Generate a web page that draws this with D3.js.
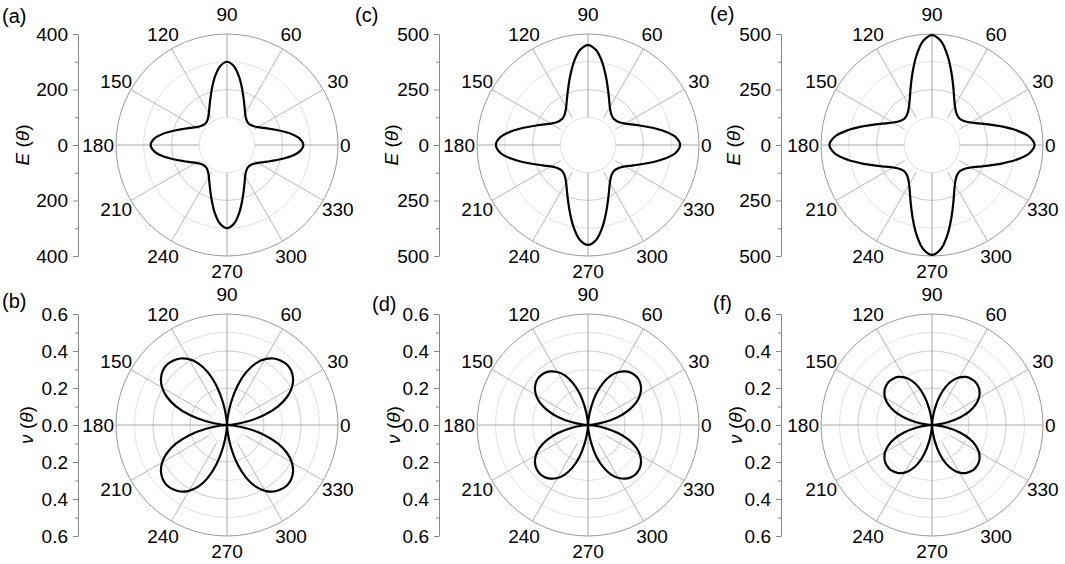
<!DOCTYPE html>
<html>
<meta charset="utf-8">
<script src="https://d3js.org/d3.v7.min.js"></script>
<style>
body { margin: 0; background: #fff; }
svg text { font-family: "Liberation Sans", Arial, sans-serif; fill: #000; }
</style>
<body>
<div id="chart"></div>
<script>
var WIDTH = 1065, HEIGHT = 564;
var R = 111;

// sample angles (deg) for every series below
var angles = d3.range(0, 360, 5);
var spokes = [0, 30, 60, 90, 120, 150, 180, 210, 240, 270, 300, 330];

// Young's modulus E(theta), panels (a) (c) (e)
var eA = [275,263,234,199,169,146,129,118,112,110,112,119,131,150,176,210,250,285,300,
          285,250,210,176,150,131,119,112,110,112,118,129,146,169,199,234,263,
          275,263,234,199,169,146,129,118,112,110,112,119,131,150,176,210,250,285,300,
          285,250,210,176,150,131,119,112,110,112,118,129,146,169,199,234,263];
var eC = [415,397,352,300,254,219,193,177,168,165,169,179,197,225,264,315,375,428,450,
          428,375,315,264,225,197,179,169,165,168,177,193,219,254,300,352,397,
          415,397,352,300,254,219,193,177,168,165,169,179,197,225,264,315,375,428,450,
          428,375,315,264,225,197,179,169,165,168,177,193,219,254,300,352,397];
var eE = [462,439,385,324,271,231,203,185,175,172,176,187,206,236,280,338,407,469,495,
          469,407,338,280,236,206,187,176,172,175,185,203,231,271,324,385,439,
          462,439,385,324,271,231,203,185,175,172,176,187,206,236,280,338,407,469,495,
          469,407,338,280,236,206,187,176,172,175,185,203,231,271,324,385,439];

// Poisson's ratio nu(theta), panels (b) (d) (f)
var nuB = [0,0.033,0.115,0.208,0.292,0.358,0.405,0.436,0.454,0.460,0.454,0.439,0.411,0.368,0.304,0.220,0.122,0.036,0,
           0.036,0.122,0.220,0.304,0.368,0.411,0.439,0.454,0.460,0.454,0.436,0.405,0.358,0.292,0.208,0.115,0.033,
           0,0.033,0.115,0.208,0.292,0.358,0.405,0.436,0.454,0.460,0.454,0.439,0.411,0.368,0.304,0.220,0.122,0.036,0,
           0.036,0.122,0.220,0.304,0.368,0.411,0.439,0.454,0.460,0.454,0.436,0.405,0.358,0.292,0.208,0.115,0.033];
var nuD = [0,0.027,0.092,0.168,0.235,0.288,0.325,0.350,0.365,0.370,0.367,0.354,0.331,0.296,0.244,0.177,0.098,0.029,0,
           0.029,0.098,0.177,0.244,0.296,0.331,0.354,0.367,0.370,0.365,0.350,0.325,0.288,0.235,0.168,0.092,0.027,
           0,0.027,0.092,0.168,0.235,0.288,0.325,0.350,0.365,0.370,0.367,0.354,0.331,0.296,0.244,0.177,0.098,0.029,0,
           0.029,0.098,0.177,0.244,0.296,0.331,0.354,0.367,0.370,0.365,0.350,0.325,0.288,0.235,0.168,0.092,0.027];
var nuF = [0,0.025,0.087,0.156,0.215,0.260,0.293,0.314,0.326,0.330,0.327,0.317,0.297,0.266,0.222,0.162,0.091,0.027,0,
           0.027,0.091,0.162,0.222,0.266,0.297,0.317,0.327,0.330,0.326,0.314,0.293,0.260,0.215,0.156,0.087,0.025,
           0,0.025,0.087,0.156,0.215,0.260,0.293,0.314,0.326,0.330,0.327,0.317,0.297,0.266,0.222,0.162,0.091,0.027,0,
           0.027,0.091,0.162,0.222,0.266,0.297,0.317,0.327,0.330,0.326,0.314,0.293,0.260,0.215,0.156,0.087,0.025];

// radial grid rings and y-axis ticks
var ringsA = [100, 200, 300, 400];
var ringsCE = [125, 250, 375, 500];
var ringsNu = [0.1, 0.2, 0.3, 0.4, 0.5, 0.6];
var ticksA = [-400, -200, 0, 200, 400], minorA = [-300, -100, 100, 300];
var ticksCE = [-500, -250, 0, 250, 500], minorCE = [-375, -125, 125, 375];
var ticksNu = [-0.6, -0.4, -0.2, 0, 0.2, 0.4, 0.6], minorNu = [-0.5, -0.3, -0.1, 0.1, 0.3, 0.5];

var panels = [
  {tag: "(a)", tx: 2,   ty: 23,  cx: 227, cy: 145, ax: 78,  titleX: 22,  sym: "E", vals: eA,  max: 400, rings: ringsA,  ticks: ticksA,  minor: minorA,  fmt: d3.format("d"),   center: false},
  {tag: "(b)", tx: 2,   ty: 308, cx: 227, cy: 425, ax: 78,  titleX: 26,  sym: "ν", vals: nuB, max: 0.6, rings: ringsNu, ticks: ticksNu, minor: minorNu, fmt: d3.format(".1f"), center: true},
  {tag: "(c)", tx: 355, ty: 22,  cx: 588, cy: 145, ax: 439, titleX: 391, sym: "E", vals: eC,  max: 500, rings: ringsCE, ticks: ticksCE, minor: minorCE, fmt: d3.format("d"),   center: false},
  {tag: "(d)", tx: 372, ty: 311, cx: 588, cy: 425, ax: 439, titleX: 393, sym: "ν", vals: nuD, max: 0.6, rings: ringsNu, ticks: ticksNu, minor: minorNu, fmt: d3.format(".1f"), center: true},
  {tag: "(e)", tx: 710, ty: 21,  cx: 932, cy: 145, ax: 781, titleX: 733, sym: "E", vals: eE,  max: 500, rings: ringsCE, ticks: ticksCE, minor: minorCE, fmt: d3.format("d"),   center: false},
  {tag: "(f)", tx: 713, ty: 310, cx: 932, cy: 425, ax: 781, titleX: 735, sym: "ν", vals: nuF, max: 0.6, rings: ringsNu, ticks: ticksNu, minor: minorNu, fmt: d3.format(".1f"), center: true}
];

var svg = d3.select("#chart").append("svg")
    .attr("width", WIDTH).attr("height", HEIGHT)
    .style("font-size", "19px");

var rad = Math.PI / 180;

panels.forEach(function (p) {
  var r = d3.scaleLinear().domain([0, p.max]).range([0, R]);
  var g = svg.append("g").attr("transform", "translate(" + p.cx + "," + p.cy + ")");

  // rings: major ones (matching major ticks) a bit darker
  g.selectAll("circle.ring").data(p.rings).enter().append("circle")
      .attr("r", function (d) { return r(d); })
      .attr("fill", "none")
      .attr("stroke", function (d, i) {
        if (i === p.rings.length - 1) return "#999";
        return (i % 2 === 1) ? "#cccccc" : "#e2e2e2";
      })
      .attr("stroke-width", 1);

  // spokes
  var r0 = r(p.rings[0]);
  g.selectAll("line.spoke").data(spokes).enter().append("line")
      .attr("x1", function (a) { var s = (a % 90 === 0) ? (p.center ? 0 : r0) : r0 * 1.13; return s * Math.cos(a * rad); })
      .attr("y1", function (a) { var s = (a % 90 === 0) ? (p.center ? 0 : r0) : r0 * 1.13; return -s * Math.sin(a * rad); })
      .attr("x2", function (a) { return R * Math.cos(a * rad); })
      .attr("y2", function (a) { return -R * Math.sin(a * rad); })
      .attr("stroke", function (a) { return a % 90 === 0 ? "#a6a6a6" : "#b8b8b8"; })
      .attr("stroke-width", 1);

  // curve
  var line = d3.lineRadial()
      .angle(function (d, i) { return (90 - angles[i]) * rad; })
      .radius(function (d) { return r(d); })
      .curve(d3.curveCatmullRomClosed.alpha(0.5));
  g.append("path")
      .attr("d", line(p.vals))
      .attr("fill", "none")
      .attr("stroke", "#000")
      .attr("stroke-width", 2.2);

  // angle labels
  spokes.forEach(function (a) {
    var t = g.append("text").text(a);
    if (a === 0) {
      t.attr("x", R + 2).attr("y", 0).attr("dy", "0.35em").attr("text-anchor", "start");
    } else if (a === 180) {
      t.attr("x", -R - 2).attr("y", 0).attr("dy", "0.35em").attr("text-anchor", "end");
    } else if (a === 90) {
      t.attr("x", 0).attr("y", -R - 13).attr("text-anchor", "middle");
    } else if (a === 270) {
      t.attr("x", 0).attr("y", R + 22).attr("text-anchor", "middle");
    } else {
      t.attr("x", 128 * Math.cos(a * rad)).attr("y", -128 * Math.sin(a * rad))
       .attr("dy", "0.35em").attr("text-anchor", "middle");
    }
  });

  // left value axis, mirrored about zero
  var y = d3.scaleLinear().domain([-p.max, p.max]).range([p.cy + R, p.cy - R]);
  var ax = svg.append("g").attr("transform", "translate(" + p.ax + ",0)")
      .call(d3.axisLeft(y).tickValues(p.ticks).tickSize(5).tickPadding(5).tickSizeOuter(0)
        .tickFormat(function (d) { return p.fmt(Math.abs(d)); }));
  ax.select(".domain").attr("stroke", "#888");
  ax.selectAll(".tick line").attr("stroke", "#888");
  ax.selectAll(".tick text").style("font-size", "19px").attr("fill", "#000")
      .style("font-family", '"Liberation Sans", Arial, sans-serif');
  svg.append("g").attr("transform", "translate(" + p.ax + ",0)")
      .call(d3.axisLeft(y).tickValues(p.minor).tickSize(3).tickFormat(""))
      .call(function (s) { s.select(".domain").remove(); s.selectAll("line").attr("stroke", "#888"); });

  // axis title
  var tt = svg.append("text")
      .attr("transform", "translate(" + p.titleX + "," + p.cy + ") rotate(-90)")
      .attr("text-anchor", "middle").attr("dy", "0.35em");
  tt.append("tspan").style("font-style", "italic").text(p.sym);
  tt.append("tspan").text(" (");
  tt.append("tspan").style("font-style", "italic").text("θ");
  tt.append("tspan").text(")");

  // panel tag
  svg.append("text").attr("x", p.tx).attr("y", p.ty).style("font-size", "20px").text(p.tag);
});
</script>
</body>
</html>
